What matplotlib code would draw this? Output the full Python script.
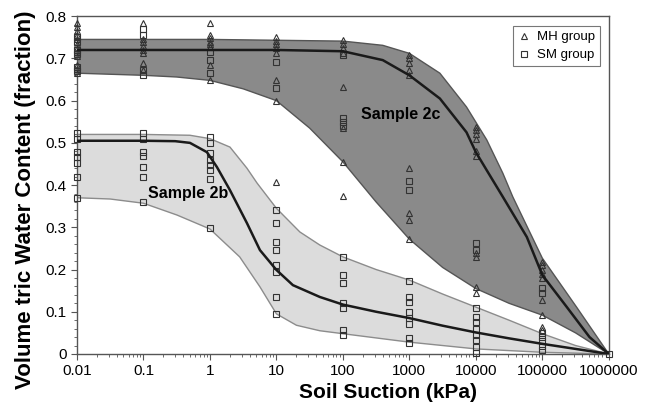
import numpy as np
import matplotlib.pyplot as plt
from matplotlib.ticker import FixedLocator, MultipleLocator, NullFormatter

plt.rcParams['font.family'] = ['Liberation Sans', 'DejaVu Sans']

# ---- curve data, x in kPa
# Sample 2c band (dark)
c2_upper_x = [0.01, 1, 100, 398, 1000, 2877, 7240, 14600, 25500, 36000, 100000, 331000, 1000000]
c2_upper = [0.745, 0.745, 0.741, 0.731, 0.712, 0.665, 0.585, 0.507, 0.428, 0.372, 0.227, 0.11, 0.0]
c2_mid_x = [0.01, 10, 100, 398, 1000, 2877, 7240, 10000, 14600, 25500, 58500, 100000, 234000, 513000, 1000000]
c2_mid = [0.72, 0.72, 0.717, 0.696, 0.66, 0.605, 0.525, 0.478, 0.435, 0.372, 0.277, 0.187, 0.111, 0.04, 0.0]
c2_lower_x = [0.01, 0.1, 0.316, 1, 3.16, 10, 31.6, 100, 316, 1000, 3162, 10000, 31623, 100000, 316228, 1000000]
c2_lower = [0.665, 0.66, 0.656, 0.648, 0.628, 0.60, 0.535, 0.455, 0.36, 0.272, 0.205, 0.155, 0.12, 0.092, 0.05, 0.0]

# Sample 2b band (light)
b2_upper_x = [0.01, 0.1, 0.5, 1, 2, 3.6, 5.1, 10, 22.5, 45, 100, 316, 1000, 3162, 10000, 31623, 100000, 316228, 1000000]
b2_upper = [0.52, 0.52, 0.518, 0.51, 0.49, 0.44, 0.405, 0.345, 0.289, 0.258, 0.23, 0.20, 0.175, 0.142, 0.111, 0.08, 0.048, 0.02, 0.0]
b2_mid_x = [0.01, 0.1, 0.3, 0.5, 0.9, 1.27, 2.0, 3.6, 5.65, 10, 17.7, 45, 100, 316, 1000, 3162, 10000, 31623, 100000, 316228, 1000000]
b2_mid = [0.505, 0.505, 0.504, 0.50, 0.478, 0.443, 0.388, 0.31, 0.246, 0.199, 0.163, 0.135, 0.117, 0.10, 0.085, 0.067, 0.051, 0.037, 0.024, 0.012, 0.0]
b2_lower_x = [0.01, 0.0316, 0.1, 0.32, 1, 2.8, 5.65, 10, 20, 45, 100, 1000, 10000, 100000, 1000000]
b2_lower = [0.37, 0.367, 0.357, 0.329, 0.296, 0.23, 0.159, 0.095, 0.068, 0.055, 0.048, 0.028, 0.012, 0.004, 0.0]

# ---- measured points
mh_pts = {
    0.01: [0.785, 0.775, 0.765, 0.755, 0.745, 0.735, 0.725, 0.715, 0.705, 0.685, 0.675, 0.665],
    0.1: [0.784, 0.745, 0.738, 0.73, 0.72, 0.712, 0.688, 0.672],
    1: [0.784, 0.755, 0.748, 0.74, 0.733, 0.727, 0.684, 0.648],
    10: [0.75, 0.742, 0.735, 0.725, 0.712, 0.648, 0.60, 0.408],
    100: [0.743, 0.735, 0.725, 0.712, 0.632, 0.535, 0.455, 0.374],
    1000: [0.708, 0.70, 0.69, 0.672, 0.66, 0.44, 0.333, 0.317, 0.272],
    10000: [0.537, 0.53, 0.52, 0.51, 0.48, 0.47, 0.24, 0.23, 0.158, 0.144],
    100000: [0.218, 0.21, 0.20, 0.19, 0.18, 0.128, 0.092, 0.064, 0.057],
}
sm_pts = {
    0.01: [0.75, 0.74, 0.72, 0.71, 0.68, 0.67, 0.523, 0.51, 0.478, 0.466, 0.452, 0.419, 0.369],
    0.1: [0.77, 0.755, 0.672, 0.66, 0.523, 0.51, 0.478, 0.47, 0.442, 0.419, 0.36],
    1: [0.715, 0.696, 0.665, 0.514, 0.50, 0.475, 0.46, 0.447, 0.435, 0.414, 0.298],
    10: [0.692, 0.63, 0.341, 0.31, 0.265, 0.246, 0.21, 0.194, 0.135, 0.095],
    100: [0.708, 0.56, 0.55, 0.54, 0.23, 0.187, 0.168, 0.12, 0.11, 0.057, 0.045],
    1000: [0.41, 0.388, 0.173, 0.135, 0.123, 0.10, 0.085, 0.07, 0.038, 0.026],
    10000: [0.263, 0.246, 0.109, 0.088, 0.075, 0.06, 0.045, 0.033, 0.017, 0.003],
    100000: [0.156, 0.144, 0.05, 0.04, 0.03, 0.02, 0.01],
    1000000: [0.0],
}

x_ticks = [0.01, 0.1, 1, 10, 100, 1000, 10000, 100000, 1000000]
x_ticklabels = ['0.01', '0.1', '1', '10', '100', '1000', '10000', '100000', '1000000']
y_ticks = [0, 0.1, 0.2, 0.3, 0.4, 0.5, 0.6, 0.7, 0.8]
y_ticklabels = ['0', '0.1', '0.2', '0.3', '0.4', '0.5', '0.6', '0.7', '0.8']


def band(ax, xu, yu, xl, yl, fill, edge):
    # closed polygon: upper edge left->right, lower edge right->left
    px = list(xu) + list(xl)[::-1]
    py = list(yu) + list(yl)[::-1]
    ax.fill(px, py, color=fill, lw=0, zorder=1)
    ax.plot(xu, yu, color=edge, lw=1.0, zorder=2)
    ax.plot(xl, yl, color=edge, lw=1.0, zorder=2)


fig = plt.figure(figsize=(6.61, 4.05), dpi=100)
ax = fig.add_axes([0.1165, 0.126, 0.8045, 0.834])

band(ax, c2_upper_x, c2_upper, c2_lower_x, c2_lower, '#8a8a8a', '#555555')
band(ax, b2_upper_x, b2_upper, b2_lower_x, b2_lower, '#dcdcdc', '#8c8c8c')

# points
for k, v in mh_pts.items():
    ax.plot([k] * len(v), v, ls='none', marker='^', ms=5, mfc='none',
            mec='#333333', mew=0.8, zorder=3, clip_on=False)
for k, v in sm_pts.items():
    ax.plot([k] * len(v), v, ls='none', marker='s', ms=4.5, mfc='none',
            mec='#333333', mew=0.8, zorder=3, clip_on=False)

# fitted curves
ax.plot(c2_mid_x, c2_mid, color='#1a1a1a', lw=1.8, zorder=4)
ax.plot(b2_mid_x, b2_mid, color='#1a1a1a', lw=1.8, zorder=4)

ax.text(745, 0.566, 'Sample 2c', fontsize=11.5, fontweight='bold', ha='center', va='center', zorder=5)
ax.text(0.467, 0.381, 'Sample 2b', fontsize=11.5, fontweight='bold', ha='center', va='center', zorder=5)

# legend
h1, = ax.plot([], [], ls='none', marker='^', ms=5, mfc='none', mec='#333333', mew=0.8)
h2, = ax.plot([], [], ls='none', marker='s', ms=4.5, mfc='none', mec='#333333', mew=0.8)
leg = ax.legend([h1, h2], ['MH group', 'SM group'], loc='upper right',
                bbox_to_anchor=(0.983, 0.970), fontsize=9.5, frameon=True,
                fancybox=False, edgecolor='#555555', handlelength=1.0,
                handletextpad=0.5, borderpad=0.35, labelspacing=0.45,
                borderaxespad=0)
leg.get_frame().set_linewidth(0.8)

ax.set_xscale('log')
ax.set_xlim(0.01, 1000000)
ax.set_ylim(0, 0.8)
ax.xaxis.set_major_locator(FixedLocator(x_ticks))
ax.set_xticklabels(x_ticklabels)
ax.xaxis.set_minor_formatter(NullFormatter())
ax.set_yticks(y_ticks)
ax.set_yticklabels(y_ticklabels)
ax.yaxis.set_minor_locator(MultipleLocator(0.02))

ax.tick_params(axis='both', which='major', labelsize=11, direction='out', length=4, color='#555555')
ax.tick_params(axis='both', which='minor', direction='out', length=2, color='#555555')
for s in ax.spines.values():
    s.set_color('#555555')
    s.set_linewidth(1.0)

fig.text(388 / 661, 0.03, 'Soil Suction (kPa)', fontsize=15, fontweight='bold',
         ha='center', va='center')
fig.text(26 / 661, 0.506, 'Volume tric Water Content (fraction)', fontsize=16,
         fontweight='bold', ha='center', va='center', rotation=90)

fig.savefig('out.png', dpi=100)
